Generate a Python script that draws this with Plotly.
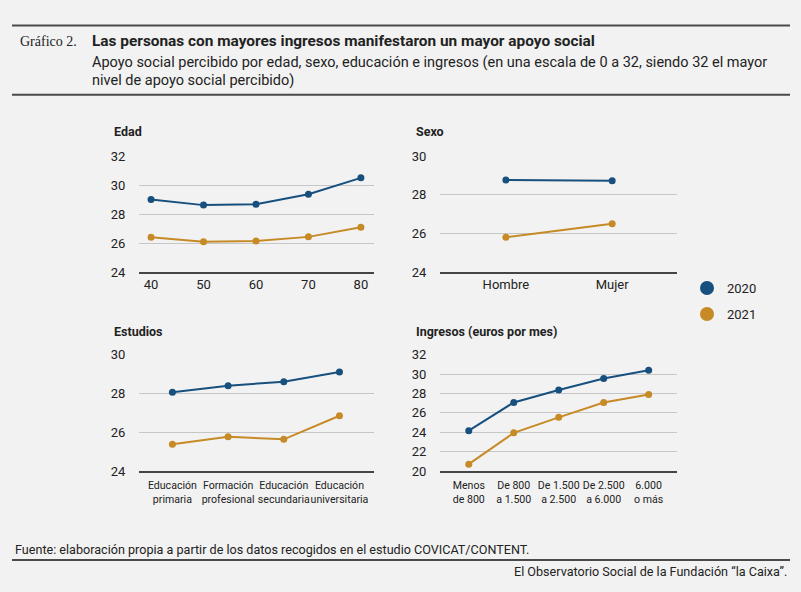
import plotly.graph_objects as go

# Datos
edad = [40, 50, 60, 70, 80]
edad_2020 = [29.0, 28.62, 28.68, 29.37, 30.5]
edad_2021 = [26.4, 26.1, 26.15, 26.43, 27.1]

sexo = ["Hombre", "Mujer"]
sexo_2020 = [28.77, 28.72]
sexo_2021 = [25.8, 26.5]

estudios = ["Educación<br>primaria", "Formación<br>profesional",
            "Educación<br>secundaria", "Educación<br>universitaria"]
estudios_2020 = [28.06, 28.4, 28.6, 29.1]
estudios_2021 = [25.38, 25.76, 25.63, 26.85]

ingresos = ["Menos<br>de 800", "De 800<br>a 1.500", "De 1.500<br>a 2.500",
            "De 2.500<br>a 6.000", "6.000<br>o más"]
ingresos_2020 = [24.16, 27.07, 28.36, 29.53, 30.4]
ingresos_2021 = [20.7, 23.93, 25.53, 27.07, 27.9]

years = ["2020", "2021"]
colors = {"2020": "#17507e", "2021": "#c68a26"}

SANS = "Roboto, Arial, sans-serif"
BG = "#f2f2f2"

fig = go.Figure()

panels = [
    ("x", "y", edad, edad_2020, edad_2021),
    ("x2", "y2", sexo, sexo_2020, sexo_2021),
    ("x3", "y3", estudios, estudios_2020, estudios_2021),
    ("x4", "y4", ingresos, ingresos_2020, ingresos_2021),
]

for xa, ya, cats, v20, v21 in panels:
    for yr, vals in zip(years, [v20, v21]):
        fig.add_trace(go.Scatter(
            x=cats, y=vals, xaxis=xa, yaxis=ya,
            mode="lines+markers",
            line=dict(color=colors[yr], width=2),
            marker=dict(color=colors[yr], size=7),
            showlegend=False, hoverinfo="skip"
        ))

# legend-only traces
for yr in years:
    fig.add_trace(go.Scatter(
        x=[None], y=[None], mode="markers", name=yr,
        legendgroup=yr,
        marker=dict(color=colors[yr], size=14),
    ))

axis_font = dict(family=SANS, size=13, color="#222")
small_font = dict(family=SANS, size=10.6, color="#222")

def xaxis_style(domain, rng, anchor, **kw):
    d = dict(domain=domain, range=rng, anchor=anchor, showgrid=False,
             zeroline=False, showline=True, linecolor="#444", linewidth=1.5,
             ticks="outside", ticklen=4, tickcolor="rgba(0,0,0,0)",
             tickangle=0, tickfont=axis_font, fixedrange=True)
    d.update(kw)
    return d

def yaxis_style(domain, rng, anchor, dtick=2):
    return dict(domain=domain, range=rng, anchor=anchor, dtick=dtick,
                showgrid=True, gridcolor="#c6c6c6", gridwidth=1,
                zeroline=False, showline=False,
                ticks="outside", ticklen=10, tickcolor="rgba(0,0,0,0)",
                tickfont=axis_font, fixedrange=True)

xl = [139 / 801, 374 / 801]
xr = [440 / 801, 677 / 801]
yt = [1 - 272 / 592, 1 - 153 / 592]
yb = [1 - 476 / 592, 1 - 356.7 / 592]

fig.update_layout(
    width=801, height=592, autosize=False,
    margin=dict(l=0, r=0, t=0, b=0),
    paper_bgcolor=BG, plot_bgcolor=BG,
    font=dict(family=SANS, color="#222"),
    xaxis=xaxis_style(xl, [37.7, 82.5], "y", tickvals=edad, ticklen=0),
    yaxis=yaxis_style(yt, [24, 32], "x"),
    xaxis2=xaxis_style(xr, [-0.62, 1.61], "y2", ticklen=0),
    yaxis2=yaxis_style(yt, [24, 30], "x2"),
    xaxis3=xaxis_style(xl, [-0.6, 3.62], "y3", tickfont=small_font),
    yaxis3=yaxis_style(yb, [24, 30], "x3"),
    xaxis4=xaxis_style(xr, [-0.64, 4.63], "y4", tickfont=small_font),
    yaxis4=yaxis_style(yb, [20, 32], "x4"),
    legend=dict(x=687 / 801, y=1 - 273 / 592, xanchor="left", yanchor="top",
                bgcolor="rgba(0,0,0,0)", font=dict(family=SANS, size=13, color="#222"),
                tracegroupgap=6, itemclick=False, itemdoubleclick=False),
)

def ann(text, x, y, size, bold=False, family=SANS, xanchor="left", color="#222"):
    if bold:
        text = "<b>" + text + "</b>"
    fig.add_annotation(text=text, x=x / 801, y=1 - y / 592, xref="paper", yref="paper",
                       xanchor=xanchor, yanchor="middle", showarrow=False, align="left",
                       font=dict(family=family, size=size, color=color))

ann("Gráfico 2.", 18, 35, 14, family="Liberation Serif, DejaVu Serif, serif")
ann("Las personas con mayores ingresos manifestaron un mayor apoyo social", 90, 35, 15.4, bold=True)
ann("Apoyo social percibido por edad, sexo, educación e ingresos (en una escala de 0 a 32, siendo 32 el mayor",
    90, 57, 14.5)
ann("nivel de apoyo social percibido)", 90, 75, 14.5)

ann("Edad", 112, 128, 12.5, bold=True)
ann("Sexo", 414, 128, 12.5, bold=True)
ann("Estudios", 112, 333, 12.5, bold=True)
ann("Ingresos (euros por mes)", 414, 333, 12.5, bold=True)

ann("Fuente: elaboración propia a partir de los datos recogidos en el estudio COVICAT/CONTENT.",
    13, 557, 12.6)
ann("El Observatorio Social de la Fundación “la Caixa”.", 789, 579, 12.6, xanchor="right")

for yy in [19, 90, 567.5]:
    fig.add_shape(type="line", xref="paper", yref="paper",
                  x0=12 / 801, x1=790 / 801, y0=1 - yy / 592, y1=1 - yy / 592,
                  line=dict(color="#4a4a4a", width=2))

fig.write_html("out.html", config={"displayModeBar": False},
               post_script="document.body.style.margin='0';")
